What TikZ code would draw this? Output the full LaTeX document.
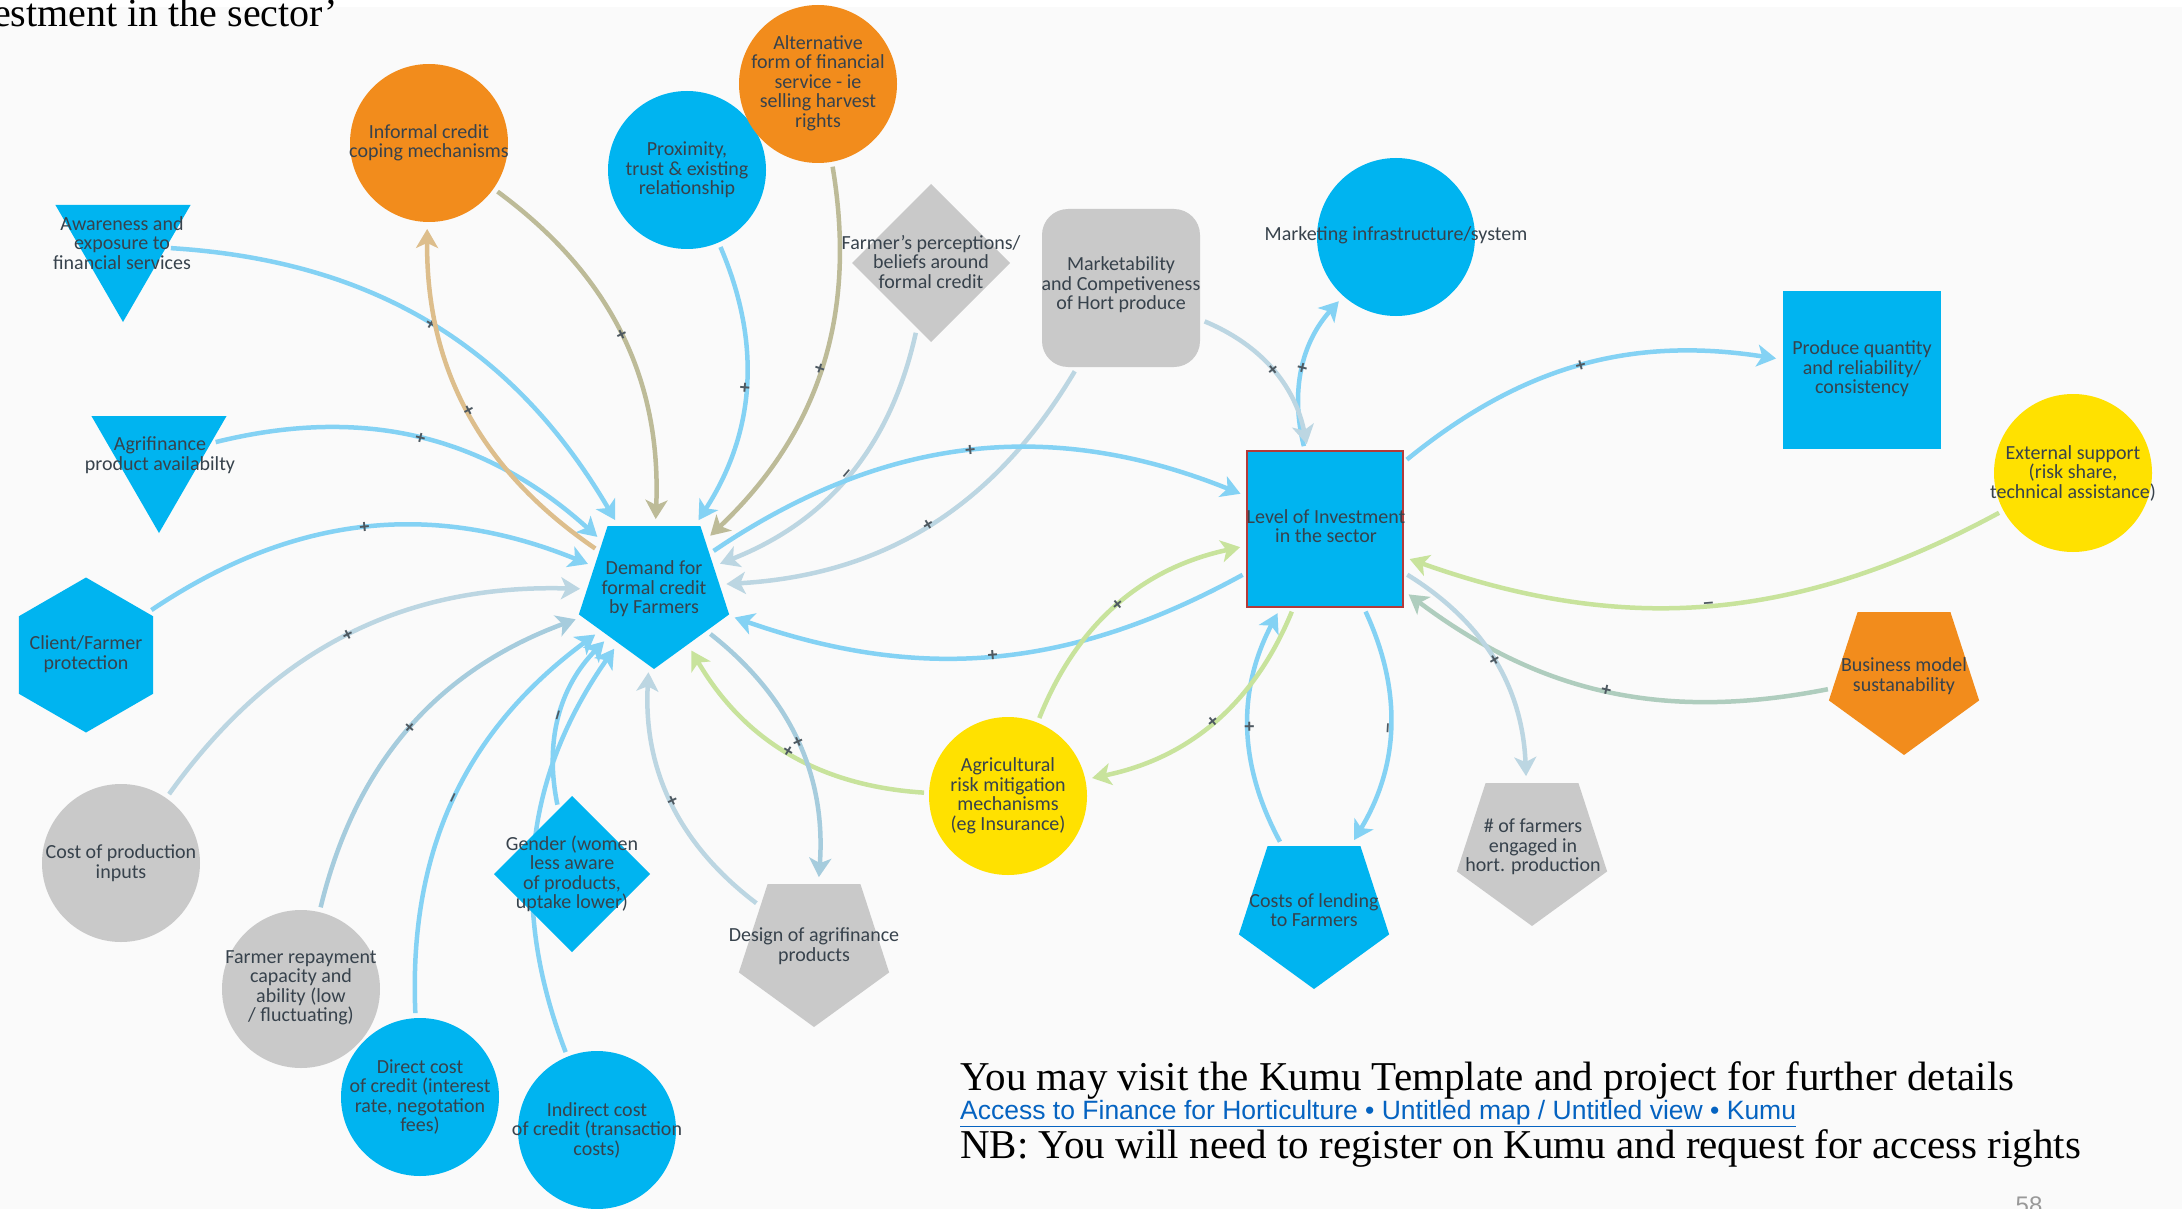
\documentclass[tikz,border=0pt]{standalone}
\usepackage{fontspec}
\setmainfont{Carlito}
\newfontfamily\serifx{Liberation Serif}
\newfontfamily\sansx{Liberation Sans}
\usetikzlibrary{shapes.geometric,arrows.meta}

\definecolor{kblue}{HTML}{00B4F0}
\definecolor{korange}{HTML}{F28C1C}
\definecolor{kgrey}{HTML}{C9C9C9}
\definecolor{kyellow}{HTML}{FFE100}
\definecolor{kred}{HTML}{B23A3A}
\definecolor{ktext}{HTML}{37424C}
\definecolor{eblue}{HTML}{84D2F4}
\definecolor{egrey}{HTML}{BCD6E2}
\definecolor{ebgrey}{HTML}{A6CCDD}
\definecolor{etan}{HTML}{BDBB98}
\definecolor{eorange}{HTML}{DDBE8C}
\definecolor{eyellow}{HTML}{C8E39C}
\definecolor{eteal}{HTML}{AFCDBE}
\definecolor{mk}{HTML}{4E5961}
\definecolor{linkblue}{HTML}{0563C1}
\definecolor{panel}{HTML}{FAFAFA}

\pgfdeclarelayer{back}
\pgfdeclarelayer{edges}
\pgfsetlayers{back,edges,main}

\tikzset{
  shp/.style={inner sep=0pt, outer sep=0pt, draw=none},
  bcirc/.style={shp, circle, fill=kblue, minimum size=158pt},
  ocirc/.style={shp, circle, fill=korange, minimum size=158pt},
  gcirc/.style={shp, circle, fill=kgrey, minimum size=158pt},
  ycirc/.style={shp, circle, fill=kyellow, minimum size=158pt},
  tri/.style={shp, regular polygon, regular polygon sides=3, shape border rotate=180, minimum size=156pt, fill=kblue},
  hexa/.style={shp, regular polygon, regular polygon sides=6, shape border rotate=30, minimum size=155pt, fill=kblue},
  penta/.style={shp, regular polygon, regular polygon sides=5, shape border rotate=180, minimum size=158pt},
  dia/.style={shp, diamond, minimum width=156pt, minimum height=156pt},
  sq/.style={shp, rectangle, minimum width=158pt, minimum height=158pt},
  txt/.style={align=center, text=ktext, inner sep=0pt, font=\fontsize{20}{19.5}\selectfont},
  edge/.style={line width=4.5pt, draw=eblue, -{Stealth[length=19pt,width=22pt,inset=5pt]}, shorten >=7pt, shorten <=5pt},
  sign/.style={sloped, pos=0.5, text=mk, inner sep=0pt, font=\sansx\bfseries\fontsize{18}{18}\selectfont},
  arcl/.style={bend left=28},
  arcs/.style={bend left=24}
}

\begin{document}
\begin{tikzpicture}[x=1pt,y=1pt]
\useasboundingbox (0,0) rectangle (2182,-1209);
\begin{pgfonlayer}{back}
  \fill[white] (0,0) rectangle (2182,-1209);
  \fill[panel] (0,-7) rectangle (2182,-1209);
\end{pgfonlayer}

% ---- factor shapes ----
\node[tri] (aware) at (123,-244) {};
\node[tri] (agri) at (159,-455) {};
\node[hexa] (client) at (86,-655) {};
\node[gcirc] (cost) at (121,-863) {};
\node[gcirc] (repay) at (301,-989) {};
\node[bcirc] (direct) at (420,-1097) {};
\node[bcirc] (indirect) at (597,-1130) {};
\node[dia, fill=kblue] (gender) at (572,-874) {};
\node[penta, fill=kgrey] (design) at (814,-948) {};
\node[penta, fill=kblue] (demand) at (654,-590) {};
\node[ocirc] (informal) at (429,-143) {};
\node[bcirc] (prox) at (687,-170) {};
\node[ocirc] (alt) at (818,-84) {};
\node[dia, fill=kgrey, minimum width=158pt, minimum height=158pt] (perc) at (931,-263) {};
\node[sq, fill=kgrey, rounded corners=26pt] (market) at (1121,-288) {};
\node[bcirc] (minfra) at (1396,-237) {};
\node[sq, fill=kblue, draw=kred, line width=2.5pt, minimum width=156pt, minimum height=156pt] (level) at (1325,-529) {};
\node[sq, fill=kblue] (produce) at (1862,-370) {};
\node[ycirc] (ext) at (2073,-473) {};
\node[penta, fill=korange] (biz) at (1904,-676) {};
\node[penta, fill=kgrey] (nfarm) at (1532,-847) {};
\node[penta, fill=kblue] (costlend) at (1314,-910) {};
\node[ycirc] (agrisk) at (1008,-796) {};

% ---- factor labels ----
\node[txt] (aware-t) at (122,-243) {Awareness and\\exposure to\\financial services};
\node[txt] (agri-t) at (160,-455) {Agrifinance\\product availabilty};
\node[txt] (client-t) at (86,-654) {Client/Farmer\\protection};
\node[txt] (cost-t) at (121,-863) {Cost of production\\inputs};
\node[txt] (repay-t) at (301,-988) {Farmer repayment\\capacity and\\ability (low\\/ fluctuating)};
\node[txt] (direct-t) at (420,-1097) {Direct cost\\of credit (interest\\rate, negotation\\fees)};
\node[txt] (indirect-t) at (597,-1130) {Indirect cost\\of credit (transaction\\costs)};
\node[txt] (gender-t) at (572,-874) {Gender (women\\less aware\\of products,\\uptake lower)};
\node[txt] (design-t) at (814,-946) {Design of agrifinance\\products};
\node[txt] (demand-t) at (654,-589) {Demand for\\formal credit\\by Farmers};
\node[txt] (informal-t) at (429,-143) {Informal credit\\coping mechanisms};
\node[txt] (prox-t) at (687,-170) {Proximity,\\trust \& existing\\relationship};
\node[txt] (alt-t) at (818,-83) {Alternative\\form of financial\\service - ie\\selling harvest\\rights};
\node[txt] (perc-t) at (931,-262) {Farmer's perceptions/\\beliefs around\\formal credit};
\node[txt] (market-t) at (1121,-285) {Marketability\\and Competiveness\\of Hort produce};
\node[txt] (minfra-t) at (1396,-235) {Marketing infrastructure/system};
\node[txt] (level-t) at (1326,-526) {Level of Investment\\in the sector};
\node[txt] (produce-t) at (1862,-369) {Produce quantity\\and reliability/\\consistency};
\node[txt] (ext-t) at (2073,-473) {External support\\(risk share,\\technical assistance)};
\node[txt] (biz-t) at (1904,-676) {Business model\\sustanability};
\node[txt] (nfarm-t) at (1533,-847) {\# of farmers\\engaged in\\hort. production};
\node[txt] (costlend-t) at (1314,-910) {Costs of lending\\to Farmers};
\node[txt] (agrisk-t) at (1008,-796) {Agricultural\\risk mitigation\\mechanisms\\(eg Insurance)};

% ---- influence links ----
\begin{pgfonlayer}{edges}
  % into the demand for formal credit
  \draw[edge] (aware) to[arcl] node[sign]{+} (demand);
  \draw[edge] (agri) to[arcl] node[sign]{+} (demand);
  \draw[edge] (client) to[arcl] node[sign]{+} (demand);
  \draw[edge, draw=egrey] (cost) to[arcl] node[sign]{+} (demand);
  \draw[edge, draw=ebgrey] (repay) to[arcl] node[sign]{+} (demand);
  \draw[edge] (direct) to[arcl] node[sign]{–} (demand);
  \draw[edge] (indirect) to[arcl] node[sign]{–} (demand);
  \draw[edge] (gender) to[arcl] node[sign]{–} (demand);
  \draw[edge, draw=egrey] (design) to[arcl] node[sign]{+} (demand);
  \draw[edge, draw=eyellow] (agrisk) to[arcl] node[sign]{+} (demand);
  \draw[edge, draw=etan] (informal) to[arcl] node[sign]{+} (demand);
  \draw[edge, draw=eorange] (demand) to[arcl] node[sign]{+} (informal);
  \draw[edge] (prox) to[arcl] node[sign]{+} (demand);
  \draw[edge, draw=etan] (alt) to[arcl] node[sign]{+} (demand);
  \draw[edge, draw=egrey] (perc) to[arcl] node[sign]{–} (demand);
  \draw[edge, draw=egrey] (market) to[arcl] node[sign]{+} (demand);
  \draw[edge] (level) to[arcs] node[sign]{+} (demand);
  \draw[edge] (demand) to[arcl] node[sign]{+} (level);
  \draw[edge, draw=ebgrey] (demand) to[arcl] node[sign]{+} (design);
  % around the level of investment
  \draw[edge] (level) to[arcl] node[sign]{+} (minfra);
  \draw[edge, draw=egrey] (market) to[arcl] node[sign]{+} (level);
  \draw[edge] (level) to[arcs] node[sign]{+} (produce);
  \draw[edge, draw=eyellow] (ext) to[arcs] node[sign]{–} (level);
  \draw[edge, draw=eteal] (biz) to[arcs] node[sign]{+} (level);
  \draw[edge, draw=egrey] (level) to[arcl] node[sign]{+} (nfarm);
  \draw[edge] (level) to[arcl] node[sign]{–} (costlend);
  \draw[edge] (costlend) to[arcl] node[sign]{+} (level);
  \draw[edge, draw=eyellow] (level) to[arcl] node[sign]{+} (agrisk);
  \draw[edge, draw=eyellow] (agrisk) to[arcl] node[sign]{+} (level);
\end{pgfonlayer}

% ---- slide text ----
\node[anchor=base east, inner sep=0pt, font=\serifx\fontsize{40}{40}\selectfont] (head) at (338,-27) {estment in the sector’};
\node[anchor=base west, inner sep=0pt, font=\serifx\fontsize{41}{41}\selectfont] (visit) at (960,-1090) {You may visit the Kumu Template and project for further details};
\node[anchor=base west, inner sep=0pt, text=linkblue, font=\sansx\fontsize{26.5}{26.5}\selectfont] (url) at (960,-1119) {\underline{Access to Finance for Horticulture • Untitled map / Untitled view • Kumu}};
\node[anchor=base west, inner sep=0pt, font=\serifx\fontsize{41}{41}\selectfont] (nb) at (960,-1158) {NB: You will need to register on Kumu and request for access rights};
\node[anchor=base, inner sep=0pt, text=gray!80, font=\sansx\fontsize{24}{24}\selectfont] (page) at (2029,-1213) {58};
\end{tikzpicture}
\end{document}
